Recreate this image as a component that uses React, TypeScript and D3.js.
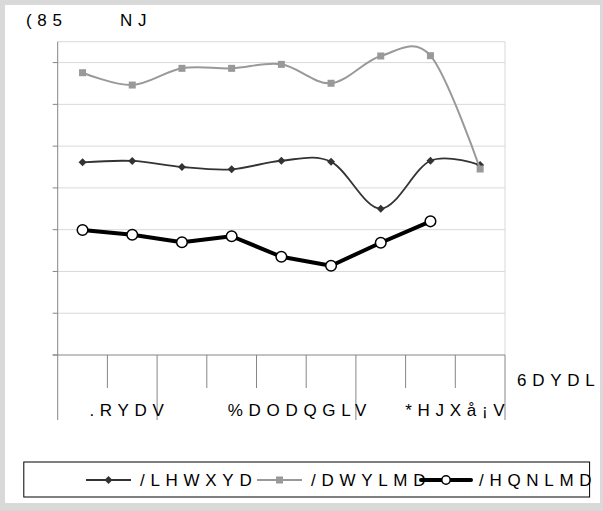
import React from "react";
import * as d3 from "d3";

// garbled labels kept exactly as they appear in the source picture
const titleLeft = "(85";
const titleRight = "NJ";
const axisTitle = "6DYDL";

const groups = [
  { label: ".RYDV", count: 2 },
  { label: "%DODQGLV", count: 4 },
  { label: "*HJXå¡V", count: 3 },
];

const lietuva = [1.845, 1.858, 1.8, 1.778, 1.86, 1.851, 1.401, 1.86, 1.819];
const latvija = [2.703, 2.585, 2.745, 2.745, 2.783, 2.602, 2.863, 2.866, 1.781];
const lenkija = [1.197, 1.152, 1.079, 1.137, 0.941, 0.855, 1.075, 1.28];

const seriesNames = ["/LHWXYD", "/DWYLMD", "/HQNLMD"];

const yTicks = [0, 0.4, 0.8, 1.2, 1.6, 2.0, 2.4, 2.8];

const W = 603;
const H = 511;
const plot = { left: 57.7, right: 505, top: 41.7, bottom: 355 };
const font = "'Liberation Sans', Arial, sans-serif";
const textStyle = { fontFamily: font, fontSize: 17, letterSpacing: 5.7, fill: "#000" };

const nCat = groups.reduce((s, g) => s + g.count, 0);
const categories = d3.range(nCat);

const x = d3
  .scaleBand<number>()
  .domain(categories)
  .range([plot.left, plot.right])
  .paddingInner(0)
  .paddingOuter(0);
const cx = (i: number) => (x(i) as number) + x.bandwidth() / 2;

const y = d3.scaleLinear().domain([0, 3]).range([plot.bottom, plot.top]);

const smooth = d3
  .line<number>()
  .x((_, i) => cx(i))
  .y((d) => y(d))
  .curve(d3.curveCardinal.tension(0));

const straight = d3
  .line<number>()
  .x((_, i) => cx(i))
  .y((d) => y(d));

function Diamond({ px, py, r = 4, fill = "#333" }: { px: number; py: number; r?: number; fill?: string }) {
  return <path d={`M${px},${py - r}L${px + r},${py}L${px},${py + r}L${px - r},${py}Z`} fill={fill} />;
}

function Square({ px, py, s = 7, fill = "#999" }: { px: number; py: number; s?: number; fill?: string }) {
  return <rect x={px - s / 2} y={py - s / 2} width={s} height={s} fill={fill} />;
}

function Circle({ px, py, r = 5.3 }: { px: number; py: number; r?: number }) {
  return <circle cx={px} cy={py} r={r} fill="#fff" stroke="#000" strokeWidth={1.5} />;
}

export default function App() {
  // group boundaries
  let acc = 0;
  const groupSpans = groups.map((g) => {
    const start = acc;
    acc += g.count;
    return { ...g, start, end: acc };
  });
  const edge = (i: number) => (i >= nCat ? plot.right : (x(i) as number));

  const legendY = 480;
  const legend = [
    { x0: 86, x1: 131, text: 140 },
    { x0: 257, x1: 302, text: 311 },
    { x0: 421, x1: 471, text: 479 },
  ];

  return (
    <div style={{ position: "absolute", left: 0, top: 0 }}>
      <svg width={W} height={H} style={{ display: "block" }}>
        <rect x={0} y={0} width={W} height={H} fill="#d9d9d9" />
        <rect x={5} y={5} width={595} height={498} fill="#fff" />

        <text x={26} y={26} style={textStyle}>{titleLeft}</text>
        <text x={120} y={26} style={textStyle}>{titleRight}</text>

        {/* grid */}
        {yTicks.slice(1).map((t) => (
          <line key={t} x1={plot.left} x2={plot.right} y1={y(t)} y2={y(t)} stroke="#d9d9d9" strokeWidth={1} />
        ))}
        <line x1={plot.left} x2={plot.right} y1={plot.top} y2={plot.top} stroke="#d9d9d9" />
        <line x1={plot.right} x2={plot.right} y1={plot.top} y2={plot.bottom} stroke="#d9d9d9" />

        {/* y axis */}
        <line x1={plot.left} x2={plot.left} y1={plot.top} y2={plot.bottom} stroke="#868686" />
        {yTicks.map((t) => (
          <line key={t} x1={plot.left - 5} x2={plot.left} y1={y(t)} y2={y(t)} stroke="#868686" />
        ))}

        {/* x axis */}
        <line x1={plot.left - 5} x2={plot.right} y1={plot.bottom} y2={plot.bottom} stroke="#868686" />
        {d3.range(nCat + 1).map((i) => {
          const isGroup = groupSpans.some((g) => g.start === i) || i === nCat;
          return (
            <line
              key={i}
              x1={edge(i)}
              x2={edge(i)}
              y1={plot.bottom}
              y2={isGroup ? 420 : 388}
              stroke="#868686"
            />
          );
        })}
        {groupSpans.map((g) => {
          const center = (edge(g.start) + edge(g.end)) / 2;
          return (
            <text key={g.label} x={center - g.label.length * 3.6} y={416} style={textStyle}>
              {g.label}
            </text>
          );
        })}
        <text x={517} y={386} style={textStyle}>{axisTitle}</text>

        {/* series */}
        <path d={smooth(lietuva) || ""} fill="none" stroke="#333" strokeWidth={1.8} />
        {lietuva.map((v, i) => (
          <Diamond key={i} px={cx(i)} py={y(v)} />
        ))}
        <path d={smooth(latvija) || ""} fill="none" stroke="#999" strokeWidth={2} />
        {latvija.map((v, i) => (
          <Square key={i} px={cx(i)} py={y(v)} />
        ))}
        <path d={straight(lenkija) || ""} fill="none" stroke="#000" strokeWidth={4} strokeLinejoin="round" />
        {lenkija.map((v, i) => (
          <Circle key={i} px={cx(i)} py={y(v)} />
        ))}

        {/* legend */}
        <rect x={23.8} y={462} width={565.8} height={35} fill="none" stroke="#000" strokeWidth={1} />
        <line x1={legend[0].x0} x2={legend[0].x1} y1={legendY} y2={legendY} stroke="#333" strokeWidth={1.8} />
        <Diamond px={(legend[0].x0 + legend[0].x1) / 2} py={legendY} />
        <text x={legend[0].text} y={legendY + 6} style={textStyle}>{seriesNames[0]}</text>
        <line x1={legend[1].x0} x2={legend[1].x1} y1={legendY} y2={legendY} stroke="#999" strokeWidth={2} />
        <Square px={(legend[1].x0 + legend[1].x1) / 2} py={legendY} />
        <text x={legend[1].text} y={legendY + 6} style={textStyle}>{seriesNames[1]}</text>
        <line x1={legend[2].x0} x2={legend[2].x1} y1={legendY} y2={legendY} stroke="#000" strokeWidth={4} strokeLinecap="round" />
        <Circle px={(legend[2].x0 + legend[2].x1) / 2} py={legendY} r={4.2} />
        <text x={legend[2].text} y={legendY + 6} style={textStyle}>{seriesNames[2]}</text>
      </svg>
    </div>
  );
}
